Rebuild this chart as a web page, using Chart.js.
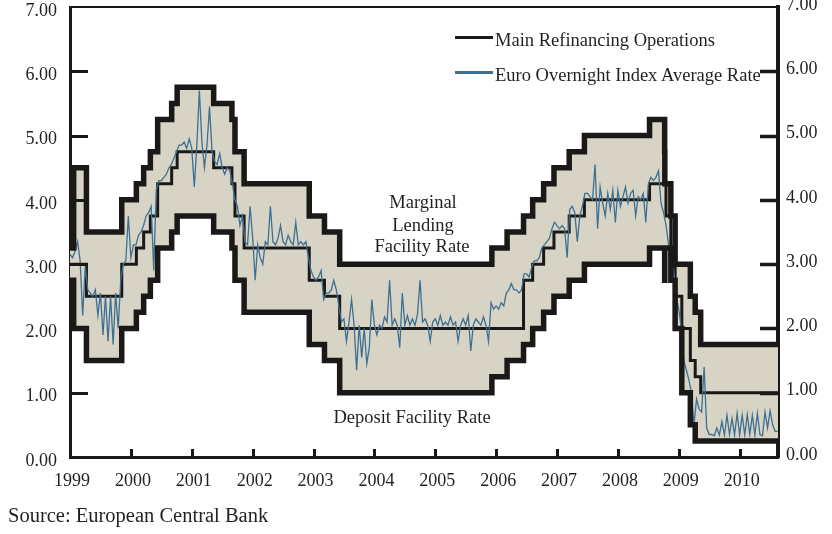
<!DOCTYPE html>
<html lang="en">
<head>
    <meta charset="UTF-8">
    <title>ECB Interest Rates</title>
    <style>
        body {
            margin: 0;
            background: #ffffff;
            font-family: "Liberation Serif", "DejaVu Serif", serif;
            color: #231f20;
        }
        .wrap {
            position: relative;
            width: 832px;
            height: 534px;
        }
        canvas {
            position: absolute;
            left: 0;
            top: 0;
        }
        .txt {
            position: absolute;
            font-size: 18.5px;
            line-height: 20px;
            white-space: nowrap;
        }
        .center {
            text-align: center;
            width: 200px;
        }
        .swatch {
            position: absolute;
            width: 38px;
            height: 3px;
        }
        .source {
            position: absolute;
            left: 8px;
            top: 504px;
            font-size: 20.5px;
            line-height: 22px;
        }
    </style>
</head>
<body>
    <div class="wrap">
        <canvas id="rateChart" width="832" height="534"></canvas>

        <div class="swatch" style="left:455px; top:36px; background:#1b1818;"></div>
        <div class="txt" style="left:495px; top:30px;">Main Refinancing Operations</div>
        <div class="swatch" style="left:455px; top:71px; background:#3e7092;"></div>
        <div class="txt" style="left:495px; top:65px;">Euro Overnight Index Average Rate</div>

        <div class="txt center" style="left:323px; top:192px;">Marginal</div>
        <div class="txt center" style="left:323px; top:215px;">Lending</div>
        <div class="txt center" style="left:322px; top:236px;">Facility Rate</div>
        <div class="txt center" style="left:312px; top:407px;">Deposit Facility Rate</div>

        <div class="source">Source: European Central Bank</div>
    </div>

    <script src="https://cdn.jsdelivr.net/npm/chart.js"></script>

    <script>
        // tick labels
        const years = [1999, 2000, 2001, 2002, 2003, 2004, 2005, 2006, 2007, 2008, 2009, 2010];
        const rateTicks = [0, 1, 2, 3, 4, 5, 6, 7];

        // ECB policy rates: value valid from each date (decimal year)
        const changeDates = [1999.00, 1999.01, 1999.06, 1999.27, 1999.85, 2000.09, 2000.21, 2000.32,
            2000.44, 2000.67, 2000.76, 2001.36, 2001.66, 2001.71, 2001.86, 2002.93, 2003.18, 2003.43,
            2005.93, 2006.18, 2006.45, 2006.60, 2006.78, 2006.95, 2007.20, 2007.45, 2008.52, 2008.768,
            2008.771, 2008.79, 2008.87, 2008.94, 2009.05, 2009.19, 2009.27, 2009.36, 2010.63];
        const marginalRate = [4.50, 3.25, 4.50, 3.50, 4.00, 4.25, 4.50, 4.75,
            5.25, 5.50, 5.75, 5.50, 5.25, 4.75, 4.25, 3.75, 3.50, 3.00,
            3.25, 3.50, 3.75, 4.00, 4.25, 4.50, 4.75, 5.00, 5.25, 4.75,
            4.25, 4.25, 3.75, 3.00, 3.00, 2.50, 2.25, 1.75, 1.75];
        const depositRate = [2.00, 2.75, 2.00, 1.50, 2.00, 2.25, 2.50, 2.75,
            3.25, 3.50, 3.75, 3.50, 3.25, 2.75, 2.25, 1.75, 1.50, 1.00,
            1.25, 1.50, 1.75, 2.00, 2.25, 2.50, 2.75, 3.00, 3.25, 2.75,
            3.25, 3.25, 2.75, 2.00, 1.00, 0.50, 0.25, 0.25, 0.25];
        const mainRate = [3.00, 3.00, 3.00, 2.50, 3.00, 3.25, 3.50, 3.75,
            4.25, 4.50, 4.75, 4.50, 4.25, 3.75, 3.25, 2.75, 2.50, 2.00,
            2.00, 2.00, 2.75, 3.00, 3.25, 3.50, 3.75, 4.00, 4.25, 4.25,
            4.25, 3.75, 3.25, 2.50, 2.00, 1.50, 1.25, 1.00, 1.00];

        const eoniaPerYear = 24;
        const eonia1999 = [3.15, 3.10, 3.20, 3.35, 3.05, 2.20, 2.95, 2.60, 2.55, 2.50, 2.60, 2.20,
            2.55, 1.90, 2.50, 1.80, 2.50, 1.75, 2.55, 2.00, 2.75, 3.00, 3.05, 3.75];
        const eonia2000 = [3.10, 3.30, 3.30, 3.45, 3.50, 3.60, 3.75, 3.80, 3.90, 2.90, 4.15, 4.30,
            4.30, 4.35, 4.40, 4.50, 4.55, 4.65, 4.75, 4.85, 4.85, 4.90, 4.80, 4.95];
        const eonia2001 = [4.80, 4.20, 4.85, 5.70, 4.90, 4.50, 4.85, 5.45, 4.75, 4.60, 4.55, 4.72,
            4.50, 4.40, 4.50, 4.45, 4.25, 4.00, 3.90, 3.60, 3.75, 3.35, 3.30, 3.90];
        const eonia2002 = [3.42, 2.75, 3.30, 3.10, 3.00, 3.35, 3.30, 3.90, 3.35, 3.30, 3.40, 3.60,
            3.35, 3.30, 3.45, 3.35, 3.30, 3.65, 3.30, 3.35, 3.30, 3.35, 3.10, 2.90];
        const eonia2003 = [2.80, 2.75, 2.80, 2.90, 2.45, 2.55, 2.55, 2.60, 2.75, 2.60, 2.35, 2.10,
            2.15, 1.80, 2.10, 2.45, 2.05, 1.35, 2.05, 1.55, 2.00, 1.45, 1.70, 2.45];
        const eonia2004 = [2.05, 1.90, 2.05, 2.00, 2.18, 2.10, 2.75, 2.05, 2.15, 2.05, 1.70, 2.55,
            2.05, 2.20, 2.05, 2.15, 2.05, 2.22, 2.75, 2.10, 2.15, 2.05, 1.80, 2.10];
        const eonia2005 = [2.15, 2.05, 2.20, 2.05, 2.10, 2.05, 2.18, 2.05, 2.10, 1.80, 2.05, 2.15,
            2.05, 2.20, 1.65, 2.05, 2.15, 2.10, 2.05, 2.18, 2.05, 1.80, 2.40, 2.30];
        const eonia2006 = [2.35, 2.30, 2.40, 2.35, 2.55, 2.60, 2.70, 2.60, 2.60, 2.55, 2.60, 2.85,
            2.85, 2.80, 2.95, 3.05, 3.05, 3.10, 3.25, 3.30, 3.35, 3.40, 3.55, 3.65];
        const eonia2007 = [3.60, 3.55, 3.60, 3.55, 3.10, 3.85, 3.90, 3.80, 3.35, 3.75, 3.90, 4.10,
            4.10, 4.05, 4.00, 4.55, 3.55, 4.20, 3.95, 3.75, 4.10, 3.85, 4.15, 3.65];
        const eonia2008 = [4.15, 3.90, 4.05, 4.20, 3.95, 4.10, 4.15, 3.75, 4.05, 4.00, 4.10, 3.65,
            4.25, 4.35, 4.30, 4.35, 4.45, 3.95, 3.80, 3.60, 3.30, 3.15, 2.90, 2.50];
        const eonia2009 = [2.30, 2.00, 1.50, 1.35, 1.20, 1.00, 0.50, 0.90, 0.75, 0.70, 1.40, 0.45,
            0.35, 0.35, 0.33, 0.45, 0.34, 0.55, 0.34, 0.65, 0.35, 0.60, 0.34, 0.68];
        const eonia2010 = [0.34, 0.65, 0.34, 0.66, 0.35, 0.65, 0.34, 0.68, 0.35, 0.33, 0.70, 0.45,
            0.72, 0.50, 0.40, 0.40];

        const ink = '#1b1818';
        const corridorFill = '#d8d4c5';
        const eoniaBlue = '#3e7092';
        const tickFont = { family: "'Liberation Serif', serif", size: 18 };

        const eonia = [].concat(eonia1999, eonia2000, eonia2001, eonia2002, eonia2003, eonia2004,
            eonia2005, eonia2006, eonia2007, eonia2008, eonia2009, eonia2010)
            .map((v, i) => ({ x: years[0] + i / eoniaPerYear, y: v }));

        const steps = values => changeDates.map((d, i) => ({ x: d, y: values[i] }));

        // inward tick marks and the thin top frame line
        const frameMarks = {
            id: 'frameMarks',
            afterDraw(chart) {
                const { ctx, chartArea: a } = chart;
                const x = chart.scales.x;
                const y = chart.scales.y;
                ctx.save();
                ctx.strokeStyle = ink;
                ctx.lineCap = 'butt';
                ctx.lineWidth = 2;
                ctx.beginPath();
                ctx.moveTo(a.left, a.top);
                ctx.lineTo(a.right, a.top);
                ctx.stroke();

                rateTicks.slice(1, -1).forEach(v => {
                    const py = Math.round(y.getPixelForValue(v)) + 0.5;
                    ctx.lineWidth = 3;
                    ctx.beginPath();
                    ctx.moveTo(a.left, py);
                    ctx.lineTo(a.left + 18, py);
                    ctx.stroke();
                    ctx.lineWidth = 3.5;
                    ctx.beginPath();
                    ctx.moveTo(a.right, py);
                    ctx.lineTo(a.right - 18, py);
                    ctx.stroke();
                });

                ctx.lineWidth = 3;
                years.slice(1).forEach(v => {
                    const px = Math.round(x.getPixelForValue(v)) + 0.5;
                    ctx.beginPath();
                    ctx.moveTo(px, a.bottom);
                    ctx.lineTo(px, a.bottom - 8);
                    ctx.stroke();
                });
                ctx.restore();
            }
        };

        const rateAxis = (position, width, padding, offset, border) => ({
            position: position,
            min: 0,
            max: 7,
            grid: { display: true, drawOnChartArea: false, drawTicks: false },
            border: { color: ink, width: border },
            afterBuildTicks: s => { s.ticks = rateTicks.map(v => ({ value: v })); },
            afterFit: s => {
                s.width = width;
                s.paddingTop = 0;
                s.paddingBottom = 0;
            },
            ticks: {
                font: tickFont,
                color: '#231f20',
                padding: padding,
                labelOffset: offset,
                callback: v => v.toFixed(2)
            }
        });

        new Chart(document.getElementById('rateChart'), {
            type: 'line',
            data: {
                datasets: [
                    {
                        label: 'Marginal Lending Facility Rate',
                        data: steps(marginalRate),
                        stepped: true,
                        borderColor: ink,
                        borderWidth: 5.5,
                        borderJoinStyle: 'miter',
                        backgroundColor: corridorFill,
                        fill: 1
                    },
                    {
                        label: 'Deposit Facility Rate',
                        data: steps(depositRate),
                        stepped: true,
                        borderColor: ink,
                        borderWidth: 5.5,
                        borderJoinStyle: 'miter',
                        fill: false
                    },
                    {
                        label: 'Euro Overnight Index Average Rate',
                        data: eonia,
                        borderColor: eoniaBlue,
                        borderWidth: 1.3,
                        tension: 0,
                        fill: false
                    },
                    {
                        label: 'Main Refinancing Operations',
                        data: steps(mainRate),
                        stepped: true,
                        borderColor: ink,
                        borderWidth: 3,
                        borderJoinStyle: 'miter',
                        fill: false
                    }
                ]
            },
            options: {
                responsive: false,
                animation: false,
                layout: { padding: { top: 7, left: 0, right: 0, bottom: 0 } },
                elements: { point: { radius: 0 } },
                plugins: {
                    legend: { display: false },
                    tooltip: { enabled: false },
                    filler: { drawTime: 'beforeDatasetsDraw' }
                },
                scales: {
                    x: {
                        type: 'linear',
                        min: 1999,
                        max: 2010.63,
                        grid: { display: true, drawOnChartArea: false, drawTicks: false },
                        border: { color: ink, width: 3 },
                        afterBuildTicks: s => { s.ticks = years.map(v => ({ value: v })); },
                        afterFit: s => {
                            s.height = 77;
                            s.paddingLeft = 0;
                            s.paddingRight = 0;
                        },
                        ticks: {
                            font: tickFont,
                            color: '#231f20',
                            padding: 13,
                            labelOffset: 2,
                            maxRotation: 0,
                            autoSkip: false,
                            callback: v => String(v)
                        }
                    },
                    y: rateAxis('left', 70, 13, 4, 3),
                    y2: rateAxis('right', 54, 8, -2, 4)
                }
            },
            plugins: [frameMarks]
        });
    </script>
</body>
</html>
